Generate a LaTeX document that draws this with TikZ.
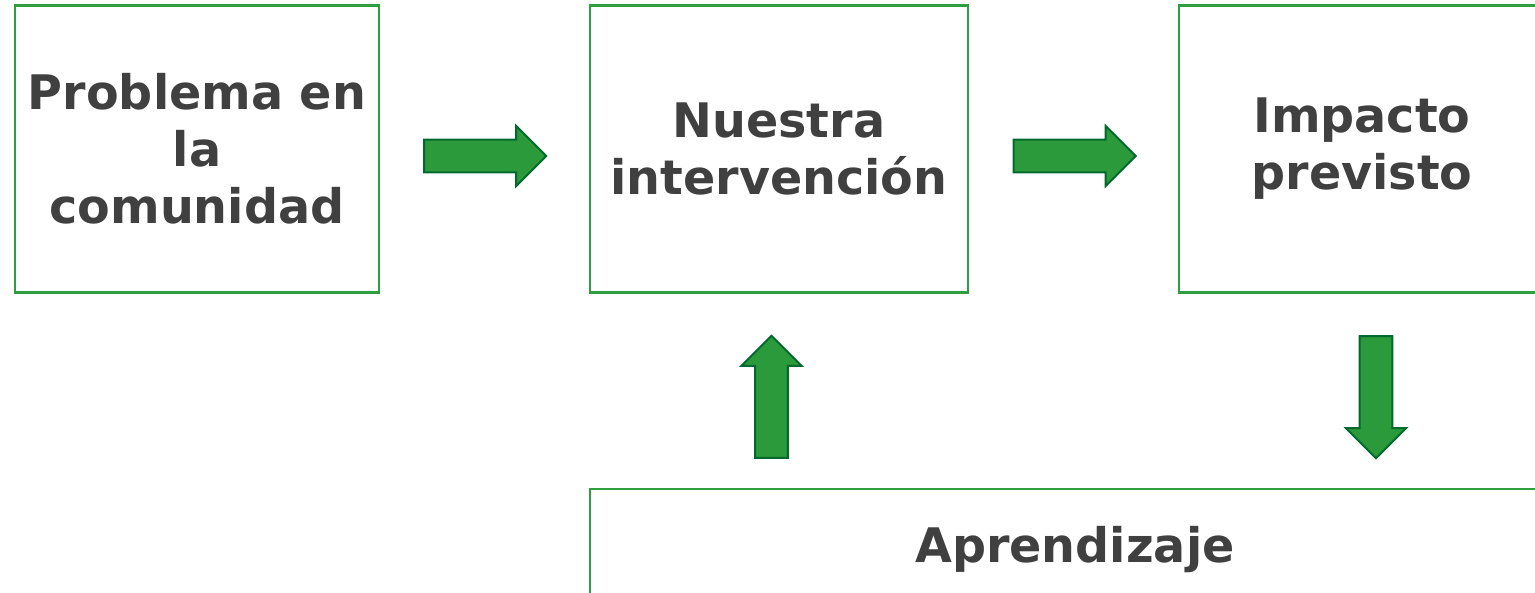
\documentclass[tikz,border=0pt]{standalone}
\usepackage{fontspec}
\setmainfont{DejaVu Sans}
\definecolor{stageGreen}{HTML}{2E9E3E}
\definecolor{stageText}{HTML}{404040}
\definecolor{flowGreen}{HTML}{2A9A3A}
\definecolor{flowEdge}{HTML}{00692E}
\usetikzlibrary{positioning,shapes.arrows}

\begin{document}
\begin{tikzpicture}[x=0.5pt, y=-0.5pt,
  stage/.style={draw=stageGreen, line width=1.1pt, text=stageText, align=center,
    font=\fontsize{23.8}{28.5}\selectfont\bfseries, inner sep=0pt},
  flow/.style={single arrow, draw=flowEdge, fill=flowGreen, line width=1pt,
    minimum height=61pt, minimum width=30pt, single arrow head extend=6.8pt,
    single arrow head indent=0pt, inner xsep=0pt, inner ysep=7.7pt}
]
  \useasboundingbox (0,0) rectangle (1535,593);

  \node[stage, minimum width=182pt, minimum height=143.5pt] (problem) at (197,149) {Problema en\\la\\comunidad};
  \node[stage, minimum width=189pt, minimum height=143.5pt] (intervention) at (779,149) {Nuestra\\intervención};
  \node[stage, minimum width=183pt, minimum height=143.5pt] (impact) at (1362,149) {Impacto\\previsto};
  \node[stage, minimum width=485pt, minimum height=61pt] (learning) at (1075,550) {Aprendizaje};

  % block arrows between the stages
  \node[flow] (toIntervention) at (477,156) {};
  \node[flow] (toImpact) at (1066.5,156) {};
  \node[flow, rotate=90] (fromLearning) at (771.5,405) {};
  \node[flow, rotate=-90] (toLearning) at (1376,389) {};
\end{tikzpicture}
\end{document}
